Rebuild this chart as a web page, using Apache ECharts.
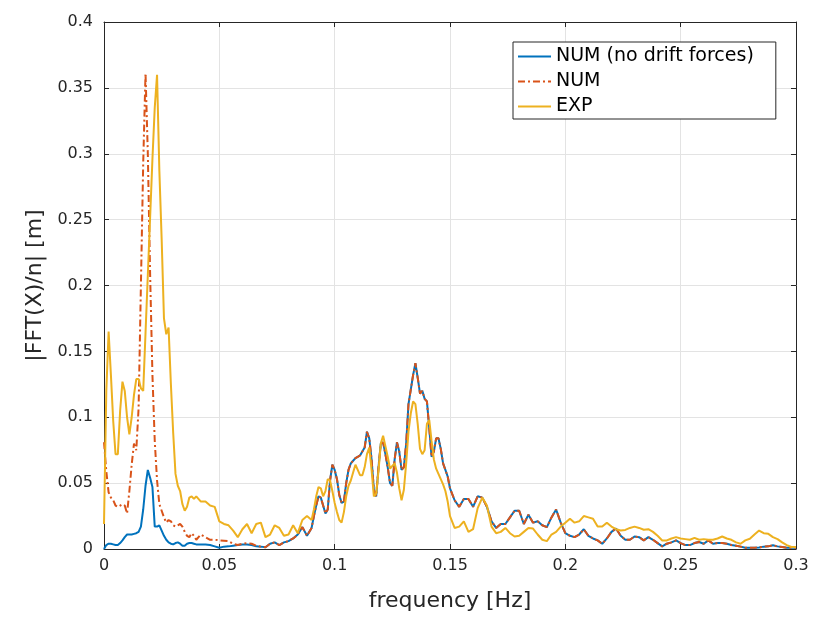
<!DOCTYPE html>
<html>
<head>
<meta charset="utf-8">
<script src="https://cdn.jsdelivr.net/npm/echarts@6/dist/echarts.min.js"></script>
<style>html,body{margin:0;padding:0;background:#fff}#c{width:813px;height:617px}</style>
</head>
<body>
<div id="c"></div>
<script>
// Frequency grid [Hz]
var freq = [
0,0.001,0.002,0.003,0.004,0.005,0.006,0.007,0.008,0.009,
0.010,0.011,0.012,0.013,0.014,0.015,0.016,0.017,0.018,0.019,
0.020,0.021,0.022,0.023,0.024,0.025,0.026,0.027,0.028,0.029,
0.030,0.031,0.032,0.033,0.034,0.035,0.036,0.037,0.038,0.039,0.040,
0.042,0.044,0.046,0.048,0.050,0.052,0.054,0.056,0.058,0.060,
0.062,0.064,0.066,0.068,0.070,0.072,0.074,0.076,0.078,0.080,
0.082,0.084,0.086,0.088,0.090,
0.091,0.092,0.093,0.094,0.095,0.096,0.097,0.098,0.099,0.100,
0.101,0.102,0.103,0.104,0.105,0.106,0.107,0.108,0.109,0.110,
0.111,0.112,0.113,0.114,0.115,0.116,0.117,0.118,0.119,0.120,
0.121,0.122,0.123,0.124,0.125,0.126,0.127,0.128,0.129,0.130,
0.131,0.132,0.133,0.134,0.135,0.136,0.137,0.138,0.139,0.140,
0.141,0.142,0.143,0.144,0.145,0.146,0.147,0.148,0.149,0.150,
0.152,0.154,0.156,0.158,0.160,0.162,0.164,0.166,0.168,0.170,
0.172,0.174,0.176,0.178,0.180,0.182,0.184,0.186,0.188,0.190,
0.192,0.194,0.196,0.198,0.200,0.202,0.204,0.206,0.208,0.210,
0.212,0.214,0.216,0.218,0.220,0.222,0.224,0.226,0.228,0.230,
0.232,0.234,0.236,0.238,0.240,0.242,0.244,0.246,0.248,0.250,
0.252,0.254,0.256,0.258,0.260,0.262,0.264,0.266,0.268,0.270,
0.272,0.274,0.276,0.278,0.280,0.282,0.284,0.286,0.288,0.290,
0.292,0.294,0.296,0.298,0.300
];

// NUM (no drift forces)
var numNoDrift = [
0,0.003,0.004,0.004,0.0035,0.003,0.003,0.0045,0.0065,0.009,
0.011,0.011,0.011,0.0115,0.012,0.013,0.017,0.030,0.048,0.060,
0.054,0.047,0.017,0.017,0.018,0.014,0.010,0.007,0.005,0.004,
0.0035,0.0045,0.005,0.004,0.0025,0.0025,0.004,0.0045,0.0045,0.004,0.0035,
0.0035,0.0035,0.003,0.002,0.001,0.0018,0.002,0.0025,0.003,0.0035,
0.0035,0.003,0.002,0.0018,0.0013,0.004,0.005,0.003,0.005,0.006,
0.008,0.011,0.0166,0.010,0.016,
0.025,0.033,0.040,0.039,0.033,0.027,0.030,0.052,0.064,0.060,
0.053,0.041,0.035,0.036,0.050,0.060,0.065,0.067,0.069,0.070,
0.071,0.074,0.077,0.089,0.084,0.068,0.045,0.040,0.062,0.080,
0.081,0.072,0.062,0.050,0.048,0.068,0.081,0.074,0.060,0.062,
0.080,0.110,0.121,0.132,0.141,0.130,0.118,0.120,0.114,0.112,
0.092,0.070,0.074,0.084,0.084,0.076,0.065,0.060,0.055,0.046,
0.037,0.032,0.038,0.038,0.032,0.040,0.039,0.032,0.021,0.016,
0.019,0.019,0.024,0.029,0.029,0.019,0.026,0.020,0.021,0.018,
0.0166,0.024,0.030,0.020,0.012,0.010,0.009,0.011,0.015,0.010,
0.008,0.0065,0.004,0.008,0.013,0.0155,0.010,0.007,0.007,0.0095,
0.009,0.0065,0.009,0.007,0.0045,0.002,0.004,0.005,0.0065,0.0045,
0.003,0.003,0.0045,0.0053,0.004,0.0065,0.004,0.0045,0.0045,0.004,
0.003,0.0025,0.0018,0.001,0.001,0.001,0.0012,0.0018,0.002,0.0028,
0.002,0.0015,0.001,0.001,0.001
];

// NUM
var num = [
0.081,0.059,0.043,0.039,0.037,0.033,0.032,0.033,0.034,0.033,
0.027,0.044,0.064,0.080,0.075,0.107,0.200,0.293,0.361,0.300,
0.208,0.132,0.082,0.052,0.034,0.029,0.024,0.020,0.022,0.021,
0.018,0.017,0.018,0.019,0.017,0.013,0.010,0.009,0.012,0.010,0.007,
0.011,0.009,0.007,0.007,0.0066,0.0063,0.006,0.004,0.003,0.004,
0.0045,0.004,0.0025,0.0018,0.0013,0.004,0.005,0.003,0.005,0.006,
0.008,0.011,0.0166,0.010,0.016,
0.025,0.033,0.040,0.039,0.033,0.027,0.030,0.052,0.064,0.060,
0.053,0.041,0.035,0.036,0.050,0.060,0.065,0.067,0.069,0.070,
0.071,0.074,0.077,0.089,0.084,0.068,0.045,0.040,0.062,0.080,
0.081,0.072,0.062,0.050,0.048,0.068,0.081,0.074,0.060,0.062,
0.080,0.110,0.121,0.132,0.141,0.130,0.118,0.120,0.114,0.112,
0.092,0.070,0.074,0.084,0.084,0.076,0.065,0.060,0.055,0.046,
0.037,0.032,0.038,0.038,0.032,0.040,0.039,0.032,0.021,0.016,
0.019,0.019,0.024,0.029,0.029,0.019,0.026,0.020,0.021,0.018,
0.0166,0.024,0.030,0.020,0.012,0.010,0.009,0.011,0.015,0.010,
0.008,0.0065,0.004,0.008,0.013,0.0155,0.010,0.007,0.007,0.0095,
0.009,0.0065,0.009,0.007,0.0045,0.002,0.004,0.005,0.0065,0.0045,
0.003,0.003,0.0045,0.0053,0.004,0.0065,0.004,0.0045,0.0045,0.004,
0.003,0.0025,0.0018,0.001,0.001,0.001,0.0012,0.0018,0.002,0.0028,
0.002,0.0015,0.001,0.001,0.001
];

// EXP
var exp = [
0.019,0.120,0.165,0.132,0.097,0.072,0.072,0.105,0.127,0.120,
0.100,0.087,0.100,0.117,0.129,0.129,0.122,0.120,0.164,0.208,
0.252,0.296,0.335,0.360,0.287,0.235,0.175,0.163,0.168,0.125,
0.088,0.057,0.048,0.044,0.034,0.029,0.032,0.039,0.040,0.038,0.040,
0.036,0.036,0.033,0.032,0.021,0.019,0.018,0.014,0.009,0.015,
0.019,0.012,0.019,0.020,0.009,0.011,0.018,0.016,0.010,0.011,
0.018,0.012,0.022,0.025,0.022,
0.030,0.040,0.047,0.046,0.040,0.044,0.053,0.052,0.044,0.035,
0.028,0.022,0.020,0.028,0.040,0.048,0.052,0.058,0.064,0.060,
0.056,0.056,0.062,0.072,0.077,0.060,0.040,0.042,0.059,0.080,
0.086,0.078,0.070,0.061,0.063,0.065,0.058,0.046,0.037,0.045,
0.065,0.089,0.103,0.112,0.110,0.095,0.076,0.072,0.075,0.095,
0.098,0.082,0.068,0.061,0.057,0.053,0.049,0.044,0.036,0.025,
0.016,0.017,0.021,0.013,0.015,0.031,0.039,0.033,0.017,0.012,
0.013,0.016,0.012,0.0095,0.010,0.013,0.016,0.0155,0.011,0.007,
0.006,0.011,0.013,0.017,0.020,0.023,0.020,0.021,0.025,0.024,
0.023,0.017,0.017,0.020,0.017,0.015,0.014,0.0145,0.016,0.017,
0.016,0.0146,0.015,0.013,0.010,0.0065,0.0065,0.008,0.009,0.008,
0.0075,0.007,0.0085,0.007,0.0075,0.007,0.007,0.008,0.0095,0.008,
0.007,0.005,0.004,0.0065,0.0078,0.011,0.014,0.012,0.0115,0.009,
0.0075,0.005,0.003,0.0015,0.0015
];

var seriesNames = ['NUM (no drift forces)', 'NUM', 'EXP'];
var xTicks = { min: 0, max: 0.3, interval: 0.05 };
var yTicks = { min: 0, max: 0.4, interval: 0.05 };

function pairs(v) { return freq.map(function (f, i) { return [f, v[i]]; }); }

var axisColor = '#262626';
var font = 'DejaVu Sans';
var chart = echarts.init(document.getElementById('c'), null, { renderer: 'canvas' });

var baseAxis = {
  axisLine: { show: true, onZero: false, lineStyle: { color: axisColor, width: 1 } },
  axisTick: { show: true, inside: true, length: 5, lineStyle: { color: axisColor } },
  splitLine: { show: false },
  axisLabel: { show: false }
};

chart.setOption({
  animation: false,
  backgroundColor: '#fff',
  grid: { left: 104, right: 17, top: 22, bottom: 65, containLabel: false },
  legend: {
    orient: 'vertical',
    left: 513, top: 42,
    backgroundColor: '#fff',
    borderColor: axisColor, borderWidth: 1,
    padding: [5, 22, 3, 4],
    itemWidth: 33, itemHeight: 14, itemGap: 6,
    itemStyle: { opacity: 0 },
    textStyle: { fontFamily: font, fontSize: 19, color: '#000' },
    data: seriesNames
  },
  xAxis: [
    Object.assign({}, baseAxis, {
      type: 'value', position: 'bottom', min: xTicks.min, max: xTicks.max, interval: xTicks.interval,
      axisLabel: { show: true, color: axisColor, fontFamily: font, fontSize: 16, margin: 9,
        formatter: function (v) { return String(+v.toFixed(2)); } },
      splitLine: { show: true, lineStyle: { color: '#e3e3e3', width: 1 } },
      name: 'frequency [Hz]', nameLocation: 'middle', nameGap: 41,
      nameTextStyle: { fontFamily: font, fontSize: 22, color: axisColor }
    }),
    Object.assign({}, baseAxis, {
      type: 'value', position: 'top', min: xTicks.min, max: xTicks.max, interval: xTicks.interval
    })
  ],
  yAxis: [
    Object.assign({}, baseAxis, {
      type: 'value', position: 'left', min: yTicks.min, max: yTicks.max, interval: yTicks.interval,
      axisLabel: { show: true, color: axisColor, fontFamily: font, fontSize: 16, margin: 11,
        formatter: function (v) { return String(+v.toFixed(2)); } },
      splitLine: { show: true, lineStyle: { color: '#e3e3e3', width: 1 } },
      name: '|FFT(X)/n| [m]', nameLocation: 'middle', nameGap: 52, nameRotate: 90,
      nameTextStyle: { fontFamily: font, fontSize: 22, color: axisColor }
    }),
    Object.assign({}, baseAxis, {
      type: 'value', position: 'right', min: yTicks.min, max: yTicks.max, interval: yTicks.interval
    })
  ],
  series: [
    { name: seriesNames[0], type: 'line', data: pairs(numNoDrift), symbol: 'none', smooth: false,
      lineStyle: { color: '#0072BD', width: 2 }, itemStyle: { color: '#0072BD' }, clip: true },
    { name: seriesNames[1], type: 'line', data: pairs(num), symbol: 'none', smooth: false,
      lineStyle: { color: '#D95319', width: 2, type: [7, 3, 2, 3] }, itemStyle: { color: '#D95319' }, clip: true },
    { name: seriesNames[2], type: 'line', data: pairs(exp), symbol: 'none', smooth: false,
      lineStyle: { color: '#EDB120', width: 2 }, itemStyle: { color: '#EDB120' }, clip: true }
  ]
});
</script>
</body>
</html>
